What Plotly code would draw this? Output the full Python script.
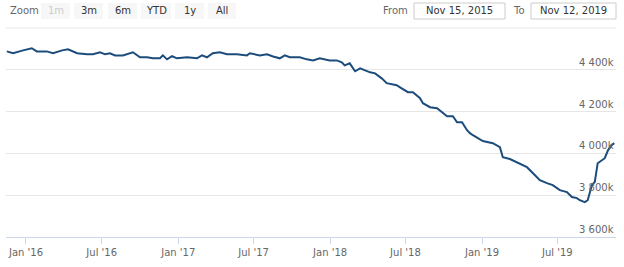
import plotly.graph_objects as go

dates = [
    "2015-11-16", "2015-12-01", "2015-12-25", "2016-01-15", "2016-01-27", "2016-02-20",
    "2016-03-06", "2016-03-28", "2016-04-11", "2016-05-03", "2016-05-27", "2016-06-10",
    "2016-06-27", "2016-07-09", "2016-07-21", "2016-08-02", "2016-08-21", "2016-09-14",
    "2016-10-01", "2016-10-18", "2016-11-01", "2016-11-18", "2016-11-25", "2016-12-05",
    "2016-12-17", "2016-12-29", "2017-01-22", "2017-02-15", "2017-02-27", "2017-03-11",
    "2017-03-25", "2017-04-11", "2017-04-28", "2017-05-22", "2017-06-15", "2017-06-22",
    "2017-07-16", "2017-08-02", "2017-08-17", "2017-09-02", "2017-09-14", "2017-09-26",
    "2017-10-20", "2017-11-06", "2017-11-21", "2017-12-07", "2017-12-31", "2018-01-17",
    "2018-01-29", "2018-02-05", "2018-02-17", "2018-03-02", "2018-03-14", "2018-04-07",
    "2018-04-19", "2018-05-05", "2018-05-17", "2018-06-10", "2018-06-18", "2018-07-07",
    "2018-07-19", "2018-08-05", "2018-08-12", "2018-08-29", "2018-09-15", "2018-09-27",
    "2018-10-09", "2018-10-23", "2018-11-02", "2018-11-14", "2018-11-26", "2018-12-03",
    "2018-12-10", "2019-01-03", "2019-01-27", "2019-02-13", "2019-02-20", "2019-03-09",
    "2019-03-26", "2019-04-07", "2019-04-19", "2019-05-03", "2019-05-13", "2019-05-20",
    "2019-06-06", "2019-06-20", "2019-07-07", "2019-07-24", "2019-08-05", "2019-08-17",
    "2019-08-24", "2019-09-05", "2019-09-12", "2019-09-22", "2019-09-29", "2019-10-06",
    "2019-10-23", "2019-10-31", "2019-11-09", "2019-11-15",
]
values = [
    4488, 4479, 4493, 4503, 4488, 4488,
    4479, 4493, 4498, 4479, 4474, 4474,
    4484, 4474, 4479, 4469, 4469, 4484,
    4460, 4460, 4455, 4455, 4469, 4450,
    4465, 4455, 4460, 4455, 4469, 4460,
    4479, 4484, 4474, 4474, 4469, 4479,
    4469, 4474, 4464, 4455, 4469, 4460,
    4460, 4450, 4445, 4455, 4445, 4445,
    4436, 4421, 4431, 4393, 4407, 4388,
    4383, 4359, 4336, 4326, 4316, 4293,
    4293, 4264, 4240, 4221, 4216, 4197,
    4178, 4178, 4149, 4149, 4111, 4097,
    4087, 4059, 4049, 4030, 3982, 3973,
    3958, 3944, 3934, 3906, 3887, 3872,
    3858, 3848, 3824, 3815, 3791, 3786,
    3776, 3767, 3776, 3848, 3863, 3953,
    3977, 4016, 4040, 4049,
]

x_tick_vals = ["2016-01-01", "2016-07-01", "2017-01-01", "2017-07-01",
               "2018-01-01", "2018-07-01", "2019-01-01", "2019-07-01"]
x_tick_text = ["Jan '16", "Jul '16", "Jan '17", "Jul '17",
               "Jan '18", "Jul '18", "Jan '19", "Jul '19"]
y_tick_vals = [3600, 3800, 4000, 4200, 4400]
y_tick_text = ["3 600k", "3 800k", "4 000k", "4 200k", "4 400k"]

zoom_buttons = ["1m", "3m", "6m", "YTD", "1y", "All"]
from_date = "Nov 15, 2015"
to_date = "Nov 12, 2019"

W, H = 624, 267
L, R, T, B = 6, 8, 28, 30
PW, PH = W - L - R, H - T - B


def px(x):
    return (x - L) / PW


def py(y):
    return (H - B - y) / PH


FONT = "DejaVu Sans"

fig = go.Figure()
fig.add_trace(go.Scatter(
    x=dates, y=values, mode="lines",
    line=dict(color="#1c4c7c", width=2),
    hoverinfo="skip", showlegend=False,
))

annotations = []
for v, t in zip(y_tick_vals, y_tick_text):
    annotations.append(dict(
        x=1, xref="paper", y=v, yref="y", text=t, showarrow=False,
        xanchor="right", yanchor="bottom", xshift=0, yshift=0,
        font=dict(family=FONT, size=10, color="#666666"),
    ))

shapes = []
# top grid line (4600k, no label)
shapes.append(dict(type="line", xref="paper", yref="paper", x0=0, x1=1, y0=1, y1=1,
                   line=dict(color="#e6e6e6", width=1), layer="below"))
# Zoom label
annotations.append(dict(x=px(8), y=py(11), xref="paper", yref="paper", text="Zoom",
                        showarrow=False, xanchor="left", yanchor="middle",
                        font=dict(family=FONT, size=10, color="#666666")))
btn_x = [41, 74, 108, 141, 175, 208]
btn_w = [29, 29, 29, 30, 29, 28]
for i, (lab, bx, bw) in enumerate(zip(zoom_buttons, btn_x, btn_w)):
    shapes.append(dict(type="rect", xref="paper", yref="paper",
                       x0=px(bx), x1=px(bx + bw), y0=py(19), y1=py(3),
                       fillcolor="#f7f7f7", line=dict(width=0), layer="above"))
    annotations.append(dict(x=px(bx + bw / 2), y=py(11), xref="paper", yref="paper",
                            text=lab, showarrow=False, xanchor="center", yanchor="middle",
                            font=dict(family=FONT, size=10,
                                      color="#cccccc" if i == 0 else "#333333")))

annotations.append(dict(x=px(381), y=py(11), xref="paper", yref="paper", text="From",
                        showarrow=False, xanchor="left", yanchor="middle",
                        font=dict(family=FONT, size=10, color="#666666")))
annotations.append(dict(x=px(511), y=py(11), xref="paper", yref="paper", text="To",
                        showarrow=False, xanchor="left", yanchor="middle",
                        font=dict(family=FONT, size=10, color="#666666")))
for (x0, x1, txt) in [(414, 505, from_date), (531, 616, to_date)]:
    shapes.append(dict(type="rect", xref="paper", yref="paper",
                       x0=px(x0), x1=px(x1), y0=py(19), y1=py(3),
                       fillcolor="white", line=dict(color="#cccccc", width=1), layer="above"))
    annotations.append(dict(x=px((x0 + x1) / 2), y=py(11), xref="paper", yref="paper",
                            text=txt, showarrow=False, xanchor="center", yanchor="middle",
                            font=dict(family=FONT, size=10, color="#333333")))

fig.update_layout(
    width=W, height=H,
    margin=dict(l=L, r=R, t=T, b=B, pad=0),
    paper_bgcolor="white", plot_bgcolor="white",
    xaxis=dict(
        range=["2015-11-14", "2019-11-19"],
        tickvals=x_tick_vals, ticktext=x_tick_text,
        ticks="outside", ticklen=6, tickcolor="#ccd6eb", tickwidth=1,
        showline=True, linecolor="#ccd6eb", linewidth=1,
        showgrid=False, zeroline=False,
        tickfont=dict(family=FONT, size=10, color="#666666"),
        fixedrange=True,
    ),
    yaxis=dict(
        range=[3600, 4600], tick0=3600, dtick=200,
        showgrid=True, gridcolor="#e6e6e6", gridwidth=1,
        showticklabels=False, zeroline=False, ticks="",
        fixedrange=True,
    ),
    annotations=annotations,
    shapes=shapes,
)

fig.write_html("out.html")
